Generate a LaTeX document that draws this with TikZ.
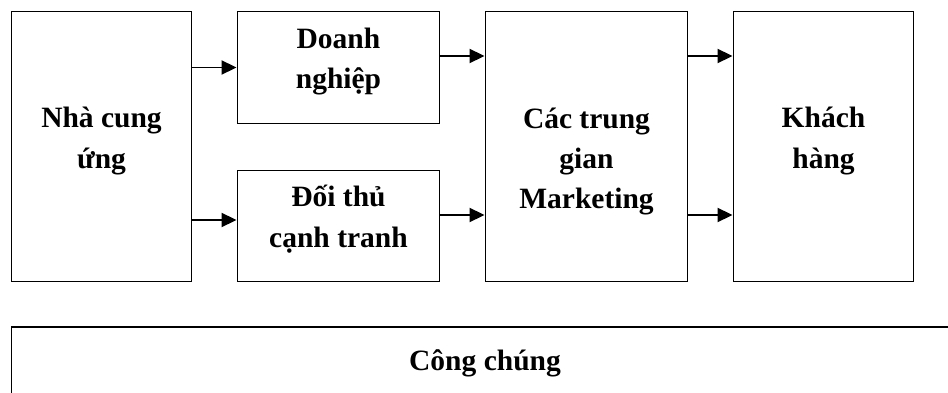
\documentclass[tikz,border=0pt]{standalone}
\usepackage{fontspec}
\setmainfont{Liberation Serif}
\usetikzlibrary{arrows.meta,positioning}

\begin{document}
\begin{tikzpicture}[x=1pt,y=-1pt,
  box/.style={draw, line width=1.9pt, inner sep=0pt},
  lbl/.style={font=\fontsize{29.5}{40}\selectfont\bfseries, align=center, anchor=base, inner sep=0pt},
  arr/.style={line width=1.9pt, -{Triangle[length=15pt,width=14pt]}}]
\useasboundingbox (0,0) rectangle (948,393);
\clip (0,0) rectangle (948,393);

\node[box, minimum width=180pt, minimum height=270pt] (ncu) at (101.5,146.5) {};
\node[box, minimum width=202pt, minimum height=112pt] (dn) at (338.5,67.5) {};
\node[box, minimum width=202pt, minimum height=111pt] (dt) at (338.5,226) {};
\node[box, minimum width=202pt, minimum height=270pt] (ctg) at (586.5,146.5) {};
\node[box, minimum width=180pt, minimum height=270pt] (kh) at (823.5,146.5) {};
\node[box, minimum width=948pt, minimum height=133pt] (cc) at (485.5,393.5) {};

\node[lbl] (tncu) at (101.5,168) {Nhà cung\\ứng};
\node[lbl] (tdn) at (338.5,89) {Doanh\\nghiệp};
\node[lbl] (tdt) at (338.5,247) {Đối thủ\\cạnh tranh};
\node[lbl] (tctg) at (586.5,208) {Các trung\\gian\\Marketing};
\node[lbl] (tkh) at (823.5,168) {Khách\\hàng};
\node[lbl] (tcc) at (485,370) {Công chúng};

\coordinate (p1) at ([yshift=6pt]dt.west);
\coordinate (p2) at ([yshift=11.5pt]dn.east);
\coordinate (p3) at ([yshift=11pt]dt.east);

\draw[arr] (ncu.east |- dn.west) -- (dn.west);
\draw[arr] (ncu.east |- p1) -- (p1);
\draw[arr] (p2) -- (ctg.west |- p2);
\draw[arr] (p3) -- (ctg.west |- p3);
\draw[arr] (ctg.east |- p2) -- (kh.west |- p2);
\draw[arr] (ctg.east |- p3) -- (kh.west |- p3);
\end{tikzpicture}
\end{document}
